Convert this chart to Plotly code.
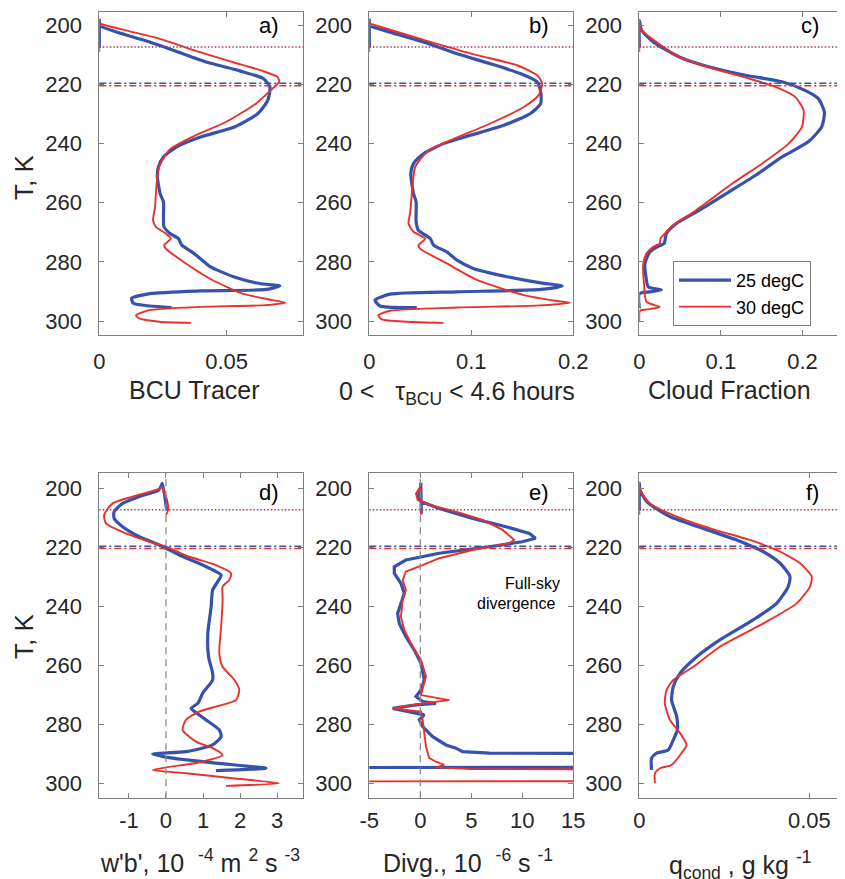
import plotly.graph_objects as go

W, H = 845, 879
PAGE_OFF = 8  # the browser's default body margin shifts the plot by 8 px

# ---------------- data (T in K, value on x) ----------------
# a) BCU tracer
a_T25 = [207.5, 197.8, 200, 202.3, 205, 208.4, 212.4, 215.4, 218, 220.8, 225.3, 229.8, 234.3, 237.7, 241.1, 244.5, 247.9, 251.2, 256.9, 259.7, 264.8, 268.1, 270.4, 272.1, 274.3, 276.6, 278.8, 281.6, 285, 287.3, 288.1, 289.3, 289.8, 290.7, 292.3, 294, 294.9, 295.4]
a_x25 = [0, 0, 0, 0.0068, 0.0173, 0.029, 0.042, 0.0552, 0.0644, 0.067, 0.0662, 0.0623, 0.0533, 0.040, 0.0304, 0.0252, 0.0232, 0.0228, 0.0239, 0.0252, 0.0252, 0.0254, 0.0278, 0.0311, 0.0324, 0.0363, 0.0396, 0.0435, 0.0527, 0.063, 0.0709, 0.0657, 0.0396, 0.0199, 0.0127, 0.0134, 0.0199, 0.0284]
a_T30 = [209, 199.2, 199.4, 201.7, 204.5, 209, 212.4, 215.4, 217.5, 219.1, 221.4, 226.5, 232.7, 237.7, 242.2, 247.9, 254.6, 261.4, 265.9, 268.1, 270.4, 272.1, 274.3, 275.5, 280.5, 286.1, 290.7, 292.9, 293.8, 294.6, 295.2, 296.3, 298, 299.1, 300.2, 300.6]
a_x30 = [0, 0, 0.0003, 0.0104, 0.0235, 0.0392, 0.0523, 0.0641, 0.070, 0.0707, 0.068, 0.0615, 0.0497, 0.0366, 0.0274, 0.0235, 0.0224, 0.0219, 0.0211, 0.0222, 0.0261, 0.0281, 0.0255, 0.0261, 0.034, 0.0444, 0.0562, 0.068, 0.073, 0.0654, 0.0392, 0.0196, 0.0144, 0.0157, 0.0235, 0.036]

# b) 0 < tau_BCU < 4.6 hours
b_T25 = [207.5, 197.8, 200, 202.3, 205.6, 209.6, 213, 216.3, 219.1, 222.5, 226.5, 229.8, 233.8, 237.2, 240, 243.4, 246.7, 250.1, 256.9, 259.7, 266.4, 269.3, 272.1, 274.3, 276.6, 279.4, 282.2, 285, 287.1, 288.1, 289.3, 290.1, 290.9, 292.9, 294.9, 295.4]
b_x25 = [0, 0, 0, 0.0204, 0.053, 0.086, 0.1187, 0.148, 0.1646, 0.168, 0.168, 0.158, 0.1318, 0.099, 0.0728, 0.053, 0.0433, 0.0407, 0.0433, 0.0459, 0.0459, 0.0482, 0.0597, 0.063, 0.076, 0.086, 0.102, 0.135, 0.168, 0.189, 0.168, 0.086, 0.0204, 0.0056, 0.0105, 0.0466]
b_T30 = [209, 199.2, 199.4, 201.5, 205.6, 210.1, 213.5, 216.9, 219.7, 223.6, 227.6, 233.2, 238.9, 242.8, 247.9, 254.6, 263.6, 267, 269.8, 272.1, 274.3, 275.5, 280.5, 286.1, 291.2, 293.2, 293.8, 294.7, 295.4, 296.5, 298, 299.4, 300.2, 300.6]
b_x30 = [0, 0, 0.001, 0.0204, 0.0597, 0.1056, 0.145, 0.1646, 0.1695, 0.166, 0.1515, 0.1187, 0.0794, 0.0564, 0.045, 0.0423, 0.040, 0.0384, 0.0433, 0.0548, 0.0482, 0.0497, 0.076, 0.1056, 0.1515, 0.184, 0.1967, 0.168, 0.086, 0.0204, 0.0089, 0.0122, 0.0368, 0.0728]

# c) cloud fraction
c_T25 = [207.5, 198.3, 201.7, 205.6, 210.7, 214.1, 216.9, 219.1, 222, 224.8, 229.3, 234.3, 239.4, 244.5, 250.7, 256.3, 262.5, 267, 270.4, 273.8, 274.7, 276.6, 280.5, 285, 288.4, 289.5, 290.1, 290.7, 295.7]
c_x25 = [0, 0, 0.0028, 0.017, 0.049, 0.086, 0.130, 0.175, 0.203, 0.2195, 0.2268, 0.2236, 0.207, 0.175, 0.1426, 0.110, 0.0737, 0.0454, 0.0332, 0.0304, 0.0231, 0.013, 0.0069, 0.0081, 0.011, 0.027, 0.013, 0, 0]
c_T30 = [209, 199.2, 201.1, 204.5, 210.7, 214.6, 218, 220.8, 224.2, 228.7, 234.3, 240, 246.7, 253.5, 262.5, 267.6, 270.4, 272.1, 273.8, 274.9, 277.1, 280.5, 287.3, 293.5, 295.2, 296.1, 296.5, 300.2]
c_x30 = [0, 0, 0.0008, 0.015, 0.049, 0.090, 0.1345, 0.167, 0.191, 0.2013, 0.1993, 0.183, 0.1507, 0.114, 0.0697, 0.0413, 0.0312, 0.026, 0.025, 0.017, 0.009, 0.0049, 0.0057, 0.0089, 0.025, 0.0089, 0.0008, 0]

# d) w'b' (1e-4 m2 s-3)
d_T25 = [207.5, 202, 198.3, 199.5, 200.6, 202.8, 205.1, 207.9, 210.2, 213, 216.4, 219.2, 222.6, 226, 229.4, 231.6, 234.5, 240.1, 249.2, 257.1, 262.7, 265, 269.5, 272.9, 274.6, 275.7, 278.5, 281.9, 284.2, 287, 289.3, 290.1, 291.5, 293.2, 294.9, 295.7]
d_x25 = [0.02, -0.04, -0.1, -0.14, -0.2, -0.72, -1.17, -1.40, -1.40, -1.17, -0.72, -0.18, 0.36, 0.99, 1.49, 1.40, 1.26, 1.22, 1.13, 1.15, 1.26, 1.26, 0.99, 0.86, 0.68, 0.77, 1.08, 1.44, 1.49, 1.26, 0.54, -0.36, 0.18, 1.35, 2.70, 1.35]
d_T30 = [209, 207.3, 204, 201, 199.6, 200.3, 202.8, 205.1, 209, 211.9, 215.3, 218.1, 219.8, 223.2, 226, 228.8, 231.1, 233.3, 237.9, 246.9, 255.9, 260.5, 265, 268.4, 271.8, 274, 275.7, 278.5, 281.9, 285.9, 288.1, 290.4, 292.7, 295.5, 296.6, 298.3, 300, 300.9]
d_x30 = [0.0, 0.06, 0.03, -0.05, -0.1, -0.2, -0.90, -1.44, -1.67, -1.62, -1.08, -0.45, 0, 0.63, 1.35, 1.76, 1.71, 1.53, 1.53, 1.49, 1.44, 1.53, 1.85, 1.98, 1.89, 1.35, 0.90, 0.54, 0.45, 0.81, 1.26, 1.53, 0.99, -0.36, 0.54, 1.80, 3.06, 1.62]

# e) full-sky divergence (1e-6 s-1); the lowest levels run off the axis
e_T25 = [208.5, 198.1, 200.6, 202.8, 204.5, 206.8, 210.2, 213, 215.3, 216.9, 218.1, 219.8, 222, 224.3, 226.6, 228.8, 232.2, 235.6, 239, 242.4, 245.8, 250.3, 254.8, 259.3, 265, 268.4, 270.6, 272.3, 272.9, 273.4, 274.6, 275.7, 276.8, 278.5, 280.8, 284.2, 287, 288.1, 288.7, 289.3, 289.8, 290.0, 290.2, 294.6, 294.7]
e_x25 = [0.1, 0.05, 0, -0.26, 0.07, 1.86, 5.13, 8.4, 10.7, 11.3, 10.0, 6.76, 1.86, -1.41, -2.55, -2.55, -1.90, -1.57, -1.90, -2.22, -2.06, -1.41, -0.59, 0.07, 0.39, 0.07, -0.42, 0.23, 1.54, -0.42, -2.71, -1.08, 0.39, -0.10, 0.23, 1.21, 2.52, 3.50, 3.82, 4.15, 6.76, 15.0, 40, 40, -40]
e_T30 = [209, 199.5, 201.7, 204, 205.6, 207.9, 210.7, 214.1, 217.5, 218.6, 220.9, 223.7, 226, 228.2, 231.1, 234.5, 237.9, 243.5, 248, 253.7, 258.2, 263.8, 267.8, 270.1, 271.8, 272.9, 274.6, 275.7, 278.5, 283, 287.6, 291.5, 292.7, 293.8, 294.6, 295.2, 295.3, 299.3, 299.4]
e_x30 = [0.1, 0.0, -0.42, -0.26, 0.88, 3.5, 6.1, 8.07, 9.2, 8.7, 5.13, 1.86, 0.23, -1.41, -1.73, -1.41, -1.73, -1.90, -1.57, -0.75, 0.07, 0.56, 0.23, 0.07, 2.84, 0.23, -2.71, 0.07, 0.23, 0.39, 0.56, 0.88, 1.54, 2.35, 1.54, 5.0, 40, 40, -40]

# f) condensate (g/kg)
f_T25 = [207.5, 198.1, 200.6, 204.5, 209.6, 213.6, 217.5, 221.5, 225.4, 229.9, 233.3, 239, 244.6, 251.4, 257.1, 262.7, 267.2, 271.8, 277.4, 281.9, 285.3, 288.7, 289.8, 291.5, 295.5]
f_x25 = [0, 0, 0.0002, 0.0022, 0.009, 0.0188, 0.0286, 0.0365, 0.0414, 0.0443, 0.0438, 0.0404, 0.0335, 0.0237, 0.0169, 0.012, 0.010, 0.0095, 0.011, 0.0112, 0.010, 0.0085, 0.0051, 0.0036, 0.0036]
f_T30 = [209, 199.2, 200.6, 205.1, 209.6, 213.9, 217.5, 220.9, 225.4, 229.9, 233.3, 239, 245.8, 253.7, 260.5, 265, 268.4, 272.9, 278.5, 283, 287, 290.4, 293.8, 294.9, 296.6, 300]
f_x30 = [0, 0, 0.0002, 0.0031, 0.011, 0.0218, 0.0325, 0.0404, 0.0473, 0.0507, 0.0502, 0.0463, 0.0365, 0.0237, 0.0159, 0.010, 0.008, 0.0075, 0.009, 0.012, 0.0139, 0.012, 0.0095, 0.0061, 0.0046, 0.0046]

# reference levels (K)
dotted_level = 207.3
dashdot_25 = 219.6
dashdot_30 = 220.4

series_names = ["25 degC", "30 degC"]
panel_letters = ["a)", "b)", "c)", "d)", "e)", "f)"]
x_ranges = [[0, 0.08], [0, 0.2], [0, 0.25], [-1.8, 3.7], [-5, 15], [0, 0.06]]
x_ticks = [[0, 0.05], [0, 0.1, 0.2], [0, 0.1, 0.2], [-1, 0, 1, 2, 3], [-5, 0, 5, 10, 15], [0, 0.05]]
x_ticktext = [["0", "0.05"], ["0", "0.1", "0.2"], ["0", "0.1", "0.2"],
              ["-1", "0", "1", "2", "3"], ["-5", "0", "5", "10", "15"], ["0", "0.05"]]
y_ticks = [200, 220, 240, 260, 280, 300]
x_titles = ["BCU Tracer",
            "0 <\u00a0\u00a0\u00a0\u03c4<sub>BCU</sub> < 4.6 hours",
            "Cloud Fraction",
            "w'b', 10\u00a0\u00a0<sup>-4</sup> m <sup>2</sup> s <sup>-3</sup>",
            "Divg., 10\u00a0\u00a0<sup>-6</sup> s <sup>-1</sup>",
            "q<sub>cond</sub> , g kg\u00a0<sup>-1</sup>"]

data = [(a_T25, a_x25, a_T30, a_x30), (b_T25, b_x25, b_T30, b_x30), (c_T25, c_x25, c_T30, c_x30),
        (d_T25, d_x25, d_T30, d_x30), (e_T25, e_x25, e_T30, e_x30), (f_T25, f_x25, f_T30, f_x30)]

# ---------------- styling / layout ----------------
BLUE = "#3652AD"
RED = "#E8312B"
AX = "#808080"
TXT = "#262626"
FONT = "Liberation Sans, Arial, sans-serif"


def fx(px):  # target page pixel -> paper x
    return (px - PAGE_OFF) / W


def fy(py):  # target page pixel -> paper y
    return 1 - (py - PAGE_OFF) / H


col_px = [(99.3, 303.0), (369.3, 573.3), (639.3, 843.3)]
row_px = [(12.0, 335.0), (473.3, 798.3)]
y_ranges = [[304.7, 195.5], [305.1, 194.9]]
x_standoff = [7, 2]

fig = go.Figure()
layout = dict(width=W, height=H, margin=dict(l=0, r=0, t=0, b=0, autoexpand=False),
              paper_bgcolor="white", plot_bgcolor="white", showlegend=True,
              font=dict(family=FONT, color=TXT))
shapes, annotations = [], []

for i in range(6):
    r, c = divmod(i, 3)
    n = i + 1
    xs = "" if n == 1 else str(n)
    x0p, x1p = col_px[c]
    y0p, y1p = row_px[r]
    layout["xaxis" + xs] = dict(domain=[fx(x0p), fx(x1p)], anchor="y" + xs, range=x_ranges[i],
                                tickvals=x_ticks[i], ticktext=x_ticktext[i], ticks="inside", ticklen=5,
                                tickcolor=AX, showline=True, linecolor=AX, linewidth=1, mirror="allticks",
                                showgrid=False, zeroline=False, ticklabelstandoff=x_standoff[r],
                                automargin=False, tickfont=dict(size=22, color=TXT, family=FONT))
    layout["yaxis" + xs] = dict(domain=[fy(y1p), fy(y0p)], anchor="x" + xs, range=y_ranges[r],
                                tickvals=y_ticks, ticks="inside", ticklen=5, tickcolor=AX, showline=True,
                                linecolor=AX, linewidth=1, mirror="allticks", showgrid=False, zeroline=False,
                                ticklabelstandoff=12, automargin=False,
                                tickfont=dict(size=22, color=TXT, family=FONT))
    T25, v25, T30, v30 = data[i]
    shape = "linear" if i == 4 else "spline"
    fig.add_trace(go.Scatter(x=v25, y=T25, mode="lines", xaxis="x" + xs, yaxis="y" + xs,
                             line=dict(color=BLUE, width=3.2, shape=shape, smoothing=0.6),
                             name=series_names[0], showlegend=(i == 2), legendgroup="25"))
    fig.add_trace(go.Scatter(x=v30, y=T30, mode="lines", xaxis="x" + xs, yaxis="y" + xs,
                             line=dict(color=RED, width=1.9, shape=shape, smoothing=0.6),
                             name=series_names[1], showlegend=(i == 2), legendgroup="30"))
    xd, yr = "x" + xs + " domain", "y" + xs
    off = 3.5 / (x1p - x0p)
    shapes += [
        dict(type="line", xref=xd, yref=yr, x0=0, x1=1, y0=dotted_level, y1=dotted_level,
             line=dict(color=RED, width=1.5, dash="1.5px,5.5px")),
        dict(type="line", xref=xd, yref=yr, x0=off, x1=1, y0=dotted_level, y1=dotted_level,
             line=dict(color=BLUE, width=1.5, dash="1.5px,5.5px")),
        dict(type="line", xref=xd, yref=yr, x0=0, x1=1, y0=dashdot_25, y1=dashdot_25,
             line=dict(color=BLUE, width=1.5, dash="7px,3px,2px,3px")),
        dict(type="line", xref=xd, yref=yr, x0=0, x1=1, y0=dashdot_30, y1=dashdot_30,
             line=dict(color=RED, width=1.5, dash="7px,3px,2px,3px")),
    ]
    if i in (3, 4):
        shapes.append(dict(type="line", xref="x" + xs, yref="y" + xs + " domain", x0=0, x1=0, y0=0, y1=1,
                           line=dict(color="#8c8c8c", width=1.3, dash="7px,5px")))
    # panel letter
    ly = 26 if r == 0 else 492
    annotations.append(dict(text=panel_letters[i], xref="paper", yref="paper", x=fx(x1p - 22),
                            y=fy(ly), xanchor="right", yanchor="middle", showarrow=False,
                            font=dict(size=22, color="black", family=FONT)))

# x-axis titles
xt_pos = [(194, 390), (457, 393), (729.5, 390), (200, 861), (468, 861), (740, 865)]
for i, (px, py) in enumerate(xt_pos):
    annotations.append(dict(text=x_titles[i], xref="paper", yref="paper", x=fx(px), y=fy(py),
                            xanchor="center", yanchor="middle", showarrow=False,
                            font=dict(size=25, color=TXT, family=FONT)))
# y-axis titles
for py in (178, 637):
    annotations.append(dict(text="T, K", xref="paper", yref="paper", x=fx(24), y=fy(py),
                            xanchor="center", yanchor="middle", textangle=-90, showarrow=False,
                            font=dict(size=26, color=TXT, family=FONT)))
# in-panel note
annotations.append(dict(text="Full-sky", xref="paper", yref="paper", x=fx(561.7), y=fy(583),
                        xanchor="right", yanchor="middle", showarrow=False,
                        font=dict(size=16, color="black", family=FONT)))
annotations.append(dict(text="divergence", xref="paper", yref="paper", x=fx(556.7), y=fy(603),
                        xanchor="right", yanchor="middle", showarrow=False,
                        font=dict(size=16, color="black", family=FONT)))

layout["shapes"] = shapes
layout["annotations"] = annotations
layout["legend"] = dict(x=fx(673), y=fy(261), xanchor="left", yanchor="top", bgcolor="white",
                        bordercolor=AX, borderwidth=1, font=dict(size=18, color="black", family=FONT),
                        itemwidth=52, tracegroupgap=0)
fig.update_layout(**layout)
fig.write_html("out.html")
